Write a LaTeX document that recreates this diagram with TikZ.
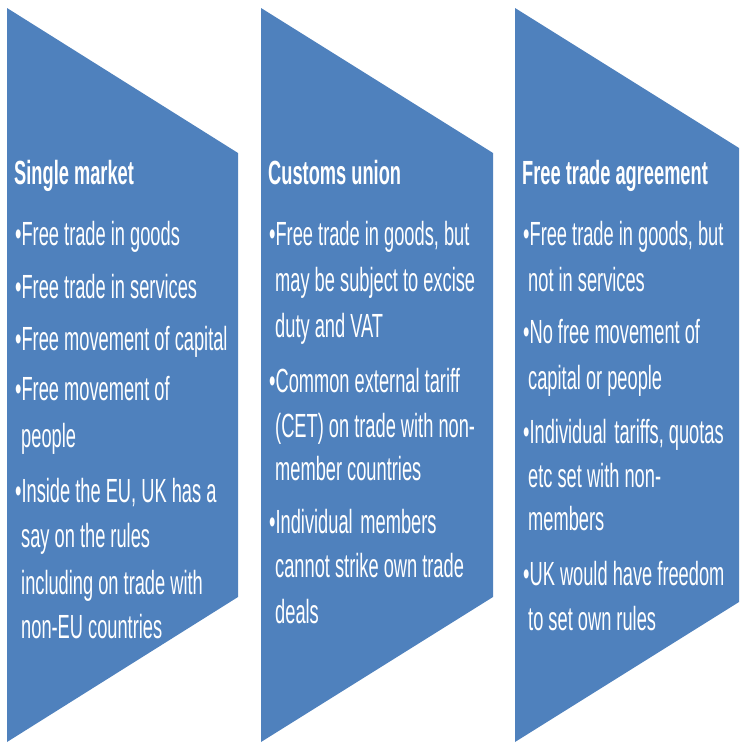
\documentclass[tikz,border=0pt]{standalone}
\usepackage{fontspec}
\newfontfamily\narrowfont[FakeStretch=0.545]{Liberation Sans}
\definecolor{panelblue}{RGB}{79,129,189}
\begin{document}
\begin{tikzpicture}[x=1pt,y=-1pt,
  panel/.style={fill=panelblue,draw=none},
  txt/.style={anchor=base west,inner sep=0pt,text=white,font=\narrowfont\fontsize{33.5}{40}\selectfont},
  ttl/.style={txt,font=\narrowfont\bfseries\fontsize{33.5}{40}\selectfont}]
\useasboundingbox (0,0) rectangle (739,744);
\clip (0,0) rectangle (739,744);
% panels
\coordinate (p1a) at (7,8);   \coordinate (p1b) at (238,153);
\coordinate (p1c) at (238,597); \coordinate (p1d) at (7,742);
\fill[panel] (p1a) -- (p1b) -- (p1c) -- (p1d) -- cycle;
\coordinate (p2a) at (261,8);   \coordinate (p2b) at (493,153);
\coordinate (p2c) at (493,597); \coordinate (p2d) at (261,742);
\fill[panel] (p2a) -- (p2b) -- (p2c) -- (p2d) -- cycle;
\coordinate (p3a) at (515,8);   \coordinate (p3b) at (747,153);
\coordinate (p3c) at (747,597); \coordinate (p3d) at (515,742);
\fill[panel] (p3a) -- (p3b) -- (p3c) -- (p3d) -- cycle;
% column 1
\node[ttl] (t1) at (14,184) {Single market};
\node[txt] (a1) at (15,245) {•Free trade in goods};
\node[txt] (a2) at (15,298) {•Free trade in services};
\node[txt] (a3) at (15,350) {•Free movement of capital};
\node[txt] (a4) at (15,400) {•Free movement of};
\node[txt] (a5) at (21,447) {people};
\node[txt] (a6) at (15,502) {•Inside the EU, UK has a};
\node[txt] (a7) at (21,547) {say on the rules};
\node[txt] (a8) at (21,594) {including on trade with};
\node[txt] (a9) at (21,638) {non-EU countries};
% column 2
\node[ttl] (t2) at (268,184) {Customs union};
\node[txt] (b1) at (269,245) {•Free trade in goods, but};
\node[txt] (b2) at (275,291) {may be subject to excise};
\node[txt] (b3) at (275,337) {duty and VAT};
\node[txt] (b4) at (269,392) {•Common external tariff};
\node[txt] (b5) at (275,437) {(CET) on trade with non-};
\node[txt] (b6) at (275,480) {member countries};
\node[txt] (b7) at (269,533) {•Individual\hspace{0.08em} members};
\node[txt] (b8) at (275,577) {cannot strike own trade};
\node[txt] (b9) at (275,623) {deals};
% column 3
\node[ttl] (t3) at (522,184) {Free trade agreement};
\node[txt] (c1) at (523,245) {•Free trade in goods, but};
\node[txt] (c2) at (528,291) {not in services};
\node[txt] (c3) at (523,343) {•No free movement of};
\node[txt] (c4) at (528,389) {capital or people};
\node[txt] (c5) at (523,443) {•Individual\hspace{0.08em} tariffs, quotas};
\node[txt] (c6) at (528,487) {etc set with non-};
\node[txt] (c7) at (528,530) {members};
\node[txt] (c8) at (523,585) {•UK would have freedom};
\node[txt] (c9) at (528,630) {to set own rules};
\end{tikzpicture}
\end{document}
